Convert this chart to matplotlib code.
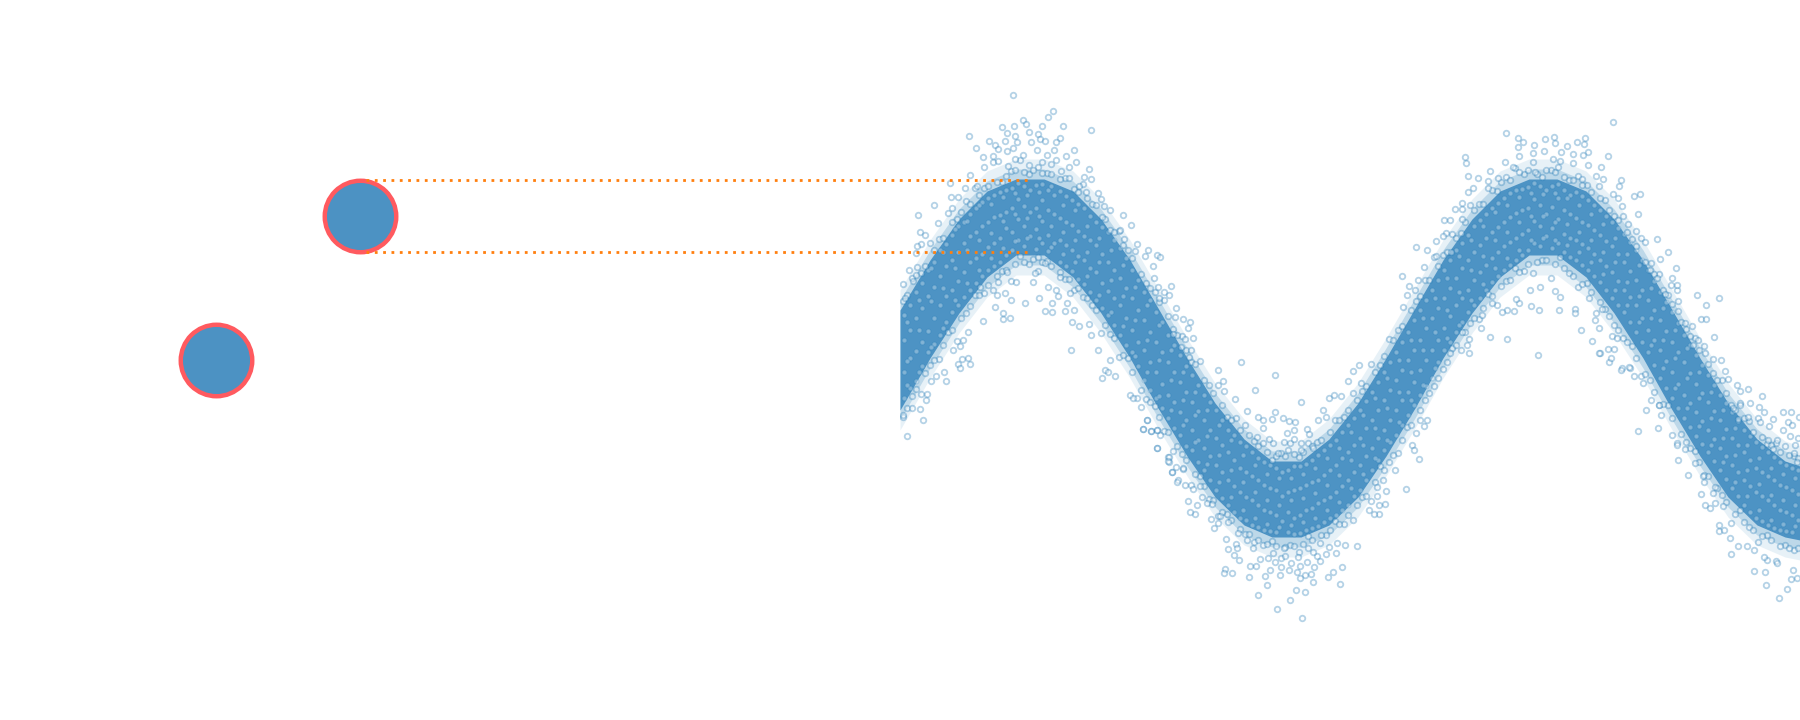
import matplotlib
matplotlib.use("Agg")
import matplotlib.pyplot as plt

# everything is in picture pixels, x to the right, y downwards

# circles on the left
circle_x = [216, 360]
circle_y = [360, 216]

# the two guide lines
guide_x = [366, 1030]
guide_y = [180, 252]

# dense band of the wave
band_x = [900, 930, 959, 987, 1016, 1044, 1073, 1101, 1130, 1158, 1187, 1215, 1244, 1272, 1301, 1329, 1358, 1386,
          1415, 1443, 1472, 1500, 1529, 1557, 1586, 1614, 1643, 1671, 1700, 1728, 1757, 1785, 1800]
band_top = [310, 260, 219, 191, 179, 179, 191, 219, 260, 308, 358, 403, 439, 461, 461, 439, 403, 358,
            308, 260, 219, 191, 179, 179, 191, 219, 260, 308, 358, 403, 439, 461, 466]
band_bot = [410, 358, 313, 277, 255, 255, 277, 313, 358, 408, 456, 497, 525, 537, 537, 525, 497, 456,
            408, 358, 313, 277, 255, 255, 277, 313, 358, 408, 456, 497, 525, 537, 540]
halo_top = [300, 250, 209, 181, 169, 169, 181, 209, 250, 298, 348, 393, 429, 451, 451, 429, 393, 348,
            298, 250, 209, 181, 169, 169, 181, 209, 250, 298, 348, 393, 429, 451, 456]
halo_bot = [420, 368, 323, 287, 265, 265, 287, 323, 368, 418, 466, 507, 535, 547, 547, 535, 507, 466,
            418, 368, 323, 287, 265, 265, 287, 323, 368, 418, 466, 507, 535, 547, 550]
halo2_top = [290, 240, 199, 171, 159, 159, 171, 199, 240, 288, 338, 383, 419, 441, 441, 419, 383, 338,
             288, 240, 199, 171, 159, 159, 171, 199, 240, 288, 338, 383, 419, 441, 446]
halo2_bot = [430, 378, 333, 297, 275, 275, 297, 333, 378, 428, 476, 517, 545, 557, 557, 545, 517, 476,
             428, 378, 333, 297, 275, 275, 297, 333, 378, 428, 476, 517, 545, 557, 560]

# points inside the band, by column
core_cols = [
    (904, [315, 340, 372, 398]), (916, [292, 318, 351, 381]), (928, [270, 296, 331, 352]), (940, [250, 276, 305, 335]),
    (952, [235, 260, 290, 312]), (964, [222, 243, 272, 297]), (976, [208, 232, 258, 283]), (988, [198, 222, 247, 270]),
    (1000, [192, 215, 238, 262]), (1012, [188, 208, 232, 250]), (1024, [186, 206, 226, 246]), (1036, [185, 208, 229, 249]),
    (1048, [190, 210, 235, 251]), (1060, [191, 218, 240, 262]), (1072, [200, 225, 250, 271]), (1084, [208, 236, 260, 284]),
    (1096, [222, 245, 272, 300]), (1108, [232, 262, 291, 315]), (1120, [248, 278, 305, 335]), (1132, [270, 298, 330, 352]),
    (1144, [292, 320, 350, 380]), (1156, [312, 342, 372, 398]), (1168, [335, 362, 395, 418]), (1180, [355, 382, 412, 435]),
    (1192, [375, 402, 430, 450]), (1204, [395, 420, 448, 470]), (1216, [410, 438, 465, 490]), (1228, [430, 452, 480, 505]),
    (1240, [442, 468, 492, 518]), (1252, [452, 476, 500, 525]), (1264, [462, 485, 510, 530]), (1276, [468, 490, 515, 532]),
    (1288, [470, 492, 512, 532]), (1300, [466, 488, 515, 533]), (1312, [460, 482, 508, 528]), (1324, [450, 475, 500, 522]),
    (1336, [440, 465, 492, 515]), (1348, [425, 452, 480, 505]), (1360, [410, 438, 465, 490]), (1372, [392, 420, 448, 470]),
    (1384, [372, 400, 430, 450]), (1396, [352, 380, 410, 435]), (1408, [332, 360, 392, 415]), (1420, [310, 340, 370, 395]),
    (1432, [290, 318, 350, 378]), (1444, [270, 298, 328, 350]), (1456, [250, 278, 305, 332]), (1468, [235, 260, 290, 312]),
    (1480, [220, 245, 272, 298]), (1492, [208, 232, 258, 282]), (1504, [198, 222, 246, 270]), (1516, [190, 213, 238, 260]),
    (1528, [187, 208, 230, 250]), (1540, [186, 205, 226, 246]), (1552, [186, 207, 228, 248]), (1564, [190, 210, 234, 252]),
    (1576, [192, 218, 240, 260]), (1588, [200, 225, 248, 270]), (1600, [210, 235, 260, 282]), (1612, [222, 246, 272, 298]),
    (1624, [234, 262, 290, 312]), (1636, [250, 280, 305, 332]), (1648, [270, 300, 330, 352]), (1660, [292, 320, 350, 378]),
    (1672, [312, 342, 372, 398]), (1684, [335, 362, 395, 418]), (1696, [355, 384, 412, 436]), (1708, [375, 402, 430, 452]),
    (1720, [395, 420, 448, 470]), (1732, [412, 438, 465, 488]), (1744, [430, 452, 480, 505]), (1756, [442, 468, 492, 518]),
    (1768, [452, 476, 500, 525]), (1780, [462, 485, 510, 530]), (1792, [468, 490, 515, 532]),
]
core_cols2 = [
    (910, [305, 330, 358, 388]), (922, [283, 308, 342, 366]), (934, [262, 287, 318, 344]), (946, [244, 266, 296, 322]),
    (958, [226, 252, 281, 305]), (970, [214, 236, 262, 290]), (982, [202, 226, 254, 276]), (994, [195, 217, 243, 266]),
    (1006, [190, 212, 228, 255]), (1018, [183, 199, 219, 240]), (1030, [190, 212, 236]), (1042, [184, 200, 221, 243]),
    (1054, [195, 214, 243]), (1066, [196, 222, 245, 266]), (1078, [204, 231, 256, 279]), (1090, [216, 240, 268, 292]),
    (1102, [227, 254, 283, 308]), (1114, [240, 270, 298, 325]), (1126, [258, 288, 318, 345]), (1138, [280, 310, 342, 366]),
    (1150, [300, 332, 362, 390]), (1162, [322, 352, 384, 408]), (1174, [345, 372, 402, 428]), (1186, [366, 392, 420, 446]),
    (1198, [385, 411, 440, 462]), (1210, [402, 430, 456, 480]), (1222, [420, 445, 472, 498]), (1234, [435, 460, 486, 512]),
    (1246, [446, 472, 497, 520]), (1258, [458, 480, 505, 527]), (1270, [465, 488, 512, 531]), (1282, [472, 496, 521]),
    (1294, [466, 490, 518, 534]), (1306, [464, 485, 510, 530]), (1318, [455, 480, 503, 526]), (1330, [445, 470, 497, 518]),
    (1342, [432, 458, 486, 510]), (1354, [418, 445, 472, 496]), (1366, [401, 428, 456, 480]), (1378, [382, 410, 438, 460]),
    (1390, [362, 390, 420, 442]), (1402, [342, 370, 400, 425]), (1414, [320, 350, 382, 405]), (1426, [300, 328, 360, 386]),
    (1438, [280, 308, 340, 362]), (1450, [260, 288, 316, 342]), (1462, [243, 268, 298, 322]), (1474, [226, 252, 280, 305]),
    (1486, [214, 238, 265, 290]), (1498, [203, 227, 252, 276]), (1510, [193, 217, 242, 265]), (1522, [189, 210, 234, 255]),
    (1534, [183, 199, 221, 243]), (1546, [190, 214, 236]), (1558, [184, 198, 219, 243]), (1570, [195, 214, 238, 257]),
    (1582, [196, 222, 244, 265]), (1594, [205, 230, 254, 276]), (1606, [216, 241, 266, 290]), (1618, [228, 254, 281, 305]),
    (1630, [242, 271, 297, 322]), (1642, [260, 290, 318, 342]), (1654, [281, 310, 340, 365]), (1666, [302, 331, 361, 388]),
    (1678, [323, 352, 384, 408]), (1690, [345, 373, 403, 427]), (1702, [365, 393, 421, 444]), (1714, [385, 411, 439, 461]),
    (1726, [403, 429, 456, 479]), (1738, [421, 445, 472, 496]), (1750, [436, 460, 486, 512]), (1762, [447, 472, 496, 521]),
    (1774, [457, 480, 505, 528]), (1786, [465, 487, 512, 531]), (1798, [470, 494, 520]),
]
core_cols3 = [
    (907, [322, 361, 385]), (919, [300, 330, 372]), (931, [268, 301, 347]), (943, [252, 288, 328]), (955, [229, 268, 300]),
    (967, [221, 250, 283]), (979, [205, 240, 270]), (991, [204, 233, 258]), (1003, [197, 221, 248]), (1015, [193, 214, 241]),
    (1027, [195, 218, 238]), (1039, [192, 216, 238]), (1051, [186, 226, 247]), (1063, [205, 232, 254]), (1075, [210, 240, 262]),
    (1087, [226, 252, 276]), (1099, [238, 262, 295]), (1111, [250, 280, 312]), (1123, [265, 296, 326]), (1135, [287, 320, 356]),
    (1147, [305, 340, 372]), (1159, [325, 360, 396]), (1171, [350, 380, 410]), (1183, [372, 400, 425]), (1195, [392, 415, 442]),
    (1207, [410, 436, 464]), (1219, [425, 455, 482]), (1231, [440, 470, 497]), (1243, [455, 482, 510]), (1255, [465, 492, 518]),
    (1267, [474, 500, 524]), (1279, [478, 505, 527]), (1291, [478, 500, 525]), (1303, [474, 498, 522]), (1315, [468, 493, 518]),
    (1327, [458, 485, 510]), (1339, [448, 475, 502]), (1351, [432, 460, 488]), (1363, [415, 445, 474]), (1375, [398, 428, 458]),
    (1387, [378, 408, 440]), (1399, [360, 392, 422]), (1411, [340, 372, 400]), (1423, [318, 350, 385]), (1435, [298, 332, 368]),
    (1447, [278, 310, 338]), (1459, [256, 292, 325]), (1471, [240, 270, 300]), (1483, [226, 256, 284]), (1495, [212, 240, 268]),
    (1507, [205, 232, 258]), (1519, [197, 222, 250]), (1531, [193, 216, 240]), (1543, [194, 216, 238]), (1555, [193, 222, 240]),
    (1567, [198, 224, 245]), (1579, [205, 232, 252]), (1591, [214, 240, 262]), (1603, [224, 252, 274]), (1615, [238, 262, 290]),
    (1627, [254, 282, 305]), (1639, [265, 296, 322]), (1651, [288, 318, 345]), (1663, [308, 340, 368]), (1675, [330, 358, 388]),
    (1687, [348, 378, 408]), (1699, [372, 398, 426]), (1711, [392, 418, 445]), (1723, [410, 438, 462]), (1735, [428, 455, 482]),
    (1747, [445, 470, 496]), (1759, [458, 484, 510]), (1771, [468, 495, 520]), (1783, [474, 500, 524]), (1795, [478, 505, 526]),
]

# points on the rough edges of the band
edge_x = [903, 912, 921, 930, 939, 948, 957, 966, 975, 984, 993, 1002, 1011, 1020, 1029, 1038, 1047, 1056, 1065, 1074,
          1083, 1092, 1101, 1110, 1119, 1128, 1137, 1146, 1155, 1164, 1173, 1182, 1191, 1200, 1209, 1218, 1227, 1236, 1245, 1254,
          1263, 1272, 1281, 1290, 1299, 1308, 1317, 1326, 1335, 1344, 1353, 1362, 1371, 1380, 1389, 1398, 1407, 1416, 1425, 1434,
          1443, 1452, 1461, 1470, 1479, 1488, 1497, 1506, 1515, 1524, 1533, 1542, 1551, 1560, 1569, 1578, 1587, 1596, 1605, 1614,
          1623, 1632, 1641, 1650, 1659, 1668, 1677, 1686, 1695, 1704, 1713, 1722, 1731, 1740, 1749, 1758, 1767, 1776, 1785, 1794]
edge_up = [301, 278, 273, 243, 239, 213, 219, 201, 188, 188, 162, 182, 171, 160, 174, 167, 173, 160, 178, 189,
           184, 204, 199, 230, 231, 250, 244, 283, 292, 300, 329, 336, 362, 361, 385, 385, 417, 418, 425, 441,
           428, 460, 453, 443, 457, 443, 442, 417, 420, 417, 393, 391, 364, 365, 339, 330, 295, 301, 280, 257,
           255, 234, 233, 205, 204, 181, 191, 177, 168, 174, 153, 177, 170, 161, 180, 176, 185, 176, 200, 216,
           216, 239, 238, 270, 274, 295, 290, 329, 338, 346, 373, 380, 405, 403, 421, 418, 444, 443, 446, 456]
edge_dn = [417, 396, 394, 365, 359, 332, 341, 313, 295, 293, 290, 271, 281, 256, 264, 271, 261, 290, 279, 290,
           297, 305, 333, 334, 357, 358, 398, 399, 406, 431, 451, 454, 485, 476, 499, 516, 514, 544, 534, 542,
           545, 541, 558, 545, 552, 536, 556, 535, 521, 524, 520, 497, 501, 466, 462, 453, 427, 433, 400, 386,
           369, 348, 350, 323, 319, 294, 305, 281, 268, 271, 273, 260, 278, 257, 273, 287, 283, 313, 309, 325,
           338, 346, 376, 380, 405, 405, 443, 442, 451, 475, 493, 495, 523, 510, 527, 542, 535, 561, 545, 550]
edge2_x = [907, 916, 925, 934, 943, 952, 961, 970, 979, 988, 997, 1006, 1015, 1024, 1033, 1042, 1051, 1060, 1069, 1078,
           1087, 1096, 1105, 1114, 1123, 1132, 1141, 1150, 1159, 1168, 1177, 1186, 1195, 1204, 1213, 1222, 1231, 1240, 1249, 1258,
           1267, 1276, 1285, 1294, 1303, 1312, 1321, 1330, 1339, 1348, 1357, 1366, 1375, 1384, 1393, 1402, 1411, 1420, 1429, 1438,
           1447, 1456, 1465, 1474, 1483, 1492, 1501, 1510, 1519, 1528, 1537, 1546, 1555, 1564, 1573, 1582, 1591, 1600, 1609, 1618,
           1627, 1636, 1645, 1654, 1663, 1672, 1681, 1690, 1699, 1708, 1717, 1726, 1735, 1744, 1753, 1762, 1771, 1780, 1789, 1798]
edge2_up = [295, 275, 266, 250, 238, 222, 212, 204, 195, 186, 182, 176, 170, 172, 170, 173, 174, 179, 178, 192,
            198, 205, 219, 232, 245, 258, 274, 288, 302, 316, 335, 350, 364, 380, 393, 405, 420, 430, 435, 446,
            452, 456, 456, 454, 452, 446, 440, 432, 420, 410, 400, 386, 372, 356, 340, 326, 310, 296, 280, 266,
            252, 238, 222, 210, 204, 190, 182, 180, 172, 170, 174, 170, 172, 177, 180, 185, 192, 198, 210, 220,
            232, 246, 262, 274, 290, 304, 322, 336, 350, 364, 380, 393, 410, 418, 432, 437, 445, 452, 455, 458]
edge2_dn = [408, 389, 373, 360, 345, 330, 318, 306, 295, 285, 276, 270, 264, 262, 259, 262, 266, 272, 279, 288,
            298, 310, 325, 338, 355, 372, 390, 402, 417, 432, 446, 460, 474, 486, 500, 512, 520, 529, 534, 540,
            544, 546, 547, 546, 544, 540, 535, 530, 524, 515, 505, 496, 482, 470, 455, 440, 425, 410, 393, 378,
            362, 345, 332, 318, 308, 296, 286, 280, 272, 264, 262, 260, 264, 268, 276, 284, 292, 302, 316, 330,
            342, 358, 374, 392, 404, 418, 434, 448, 462, 476, 488, 502, 514, 522, 530, 536, 540, 546, 548, 548]

# loose points, first hump
hump1_pts = [(1013,95),(1053,111),(1048,117),(1023,120),(1026,124),(1042,126),(1063,126),(1002,127),(1014,126),(1091,130),
    (1007,133),(1029,132),(1038,134),(969,136),(1015,136),(1060,138),(989,141),(1005,141),(1017,142),(1031,142),(1040,139),
    (1045,141),(1056,142),(995,145),(976,148),(998,149),(1007,151),(1013,148),(1037,150),(1074,150),(1054,150),(983,157),
    (993,156),(1023,155),(1047,155),(1066,156),(1015,159),(998,161),(1042,162),(1076,162),(984,167),(1008,166),(1029,165),
    (1051,164),(1089,169),(1069,167),(1061,171),(970,175),(1084,177),(1091,179),(950,183),(965,188),(977,186),(1079,186),
    (1086,192),(1098,193),(951,197),(958,197),(934,205),(952,208),(1104,206),(1110,210),(918,215),(1123,215),(1102,217),
    (938,223),(1131,225),(920,232),(925,235),(1120,230),(921,244),(917,246),(1124,239),(1135,251),(1148,250),(1145,256),
    (1157,255),(1160,257),(916,253),(909,270),(1153,266),(903,284),(1154,278),(1171,286),(1158,287),(1164,292),(1169,295),
    (1159,298),(1176,308),(1183,319),(1038,257),(1045,263),(1007,272),(1035,273),(1060,277),(998,282),(1016,282),(1033,282),
    (1048,287),(980,287),(1070,293),(1005,293),(997,295),(1011,300),(1039,298),(1058,296),(1025,303),(1052,303),(1067,303),
    (995,307),(1003,313),(1045,311),(1052,312),(1065,311),(1074,310),(1010,318),(1003,319),(983,321),(968,332),(963,340),
    (960,346),(953,350),(1072,322),(1079,326),(1089,324),(1071,350),(1091,335),(1098,350),(1110,360),(1105,370),(1108,372),
    (1102,378),(1115,376),(968,358),(962,359),(958,364),(970,364),(960,368),(944,372),(936,376),(946,381),(931,381),(927,394),
    (926,400),(920,409),(912,408),(923,420),(903,415),(907,436),(1130,395),(1133,398),(1141,407),(1147,420),(1143,429),
    (1151,431),(1157,430),(1160,435),(1157,448),(1168,457),(1169,462),(1172,472),(1183,469),(1178,480),(1190,322),(1188,328),
    (1193,338),(1185,339),(1191,350),(1189,357),(1175,317),(1181,347),(1173,334),(917,267),(913,281),(905,298)]

# first trough
trough_pts = [(1241,362),(1275,375),(1255,390),(1301,402),(1275,412),(1218,370),(1223,381),(1224,391),(1235,399),(1247,411),
    (1258,417),(1263,420),(1272,419),(1283,418),(1289,421),(1295,422),(1287,433),(1294,430),(1307,429),(1309,434),(1323,410),
    (1318,420),(1329,398),(1334,395),(1341,396),(1348,381),(1353,371),(1359,365),(1361,383),(1284,442),(1294,439),(1301,443),
    (1301,450),(1313,448),(1273,443),(1269,439),(1288,450),(1278,453),(1263,443),(1257,437),(1424,426),(1420,420),(1427,420),
    (1412,445),(1414,450),(1419,459),(1395,470),(1383,480),(1377,487),(1386,491),(1406,489),(1377,496),(1385,504),(1379,505),
    (1369,510),(1379,514),(1374,514),(1357,546),(1345,545),(1337,543),(1336,553),(1326,554),(1329,547),(1320,561),(1342,567),
    (1333,572),(1328,577),(1340,584),(1313,582),(1314,567),(1311,574),(1305,575),(1300,578),(1307,562),(1300,566),(1297,572),
    (1289,570),(1280,575),(1281,567),(1275,562),(1270,570),(1265,576),(1249,577),(1267,585),(1258,595),(1296,590),(1305,592),
    (1290,600),(1277,609),(1302,618),(1225,569),(1224,573),(1232,573),(1250,566),(1256,566),(1239,560),(1234,555),(1228,549),
    (1226,539),(1237,548),(1260,559),(1268,558),(1285,556),(1291,563),(1298,557),(1313,552),(1308,548),(1320,543),(1284,548),
    (1273,553),(1253,548),(1247,540),(1238,533),(1228,522),(1220,516),(1214,528),(1218,523),(1211,519),(1195,514),(1190,512),
    (1188,501),(1197,505),(1202,497),(1207,503),(1212,504),(1193,489),(1200,486),(1177,482),(1185,485),(1183,468),(1172,472),
    (1176,467),(1169,457),(1168,461),(1157,448),(1143,429),(1151,431),(1157,430),(1147,420)]

# second hump
hump2_pts = [(1613,122),(1506,133),(1518,138),(1545,139),(1554,137),(1577,142),(1585,138),(1584,144),(1567,146),(1534,145),
    (1523,142),(1518,147),(1555,143),(1588,152),(1608,156),(1573,154),(1544,151),(1561,152),(1465,157),(1466,163),(1505,162),
    (1519,156),(1533,162),(1553,159),(1583,155),(1601,167),(1588,165),(1490,171),(1468,176),(1478,178),(1498,178),(1513,167),
    (1535,172),(1558,167),(1573,163),(1603,179),(1621,180),(1619,186),(1582,179),(1599,186),(1640,194),(1634,196),(1613,194),
    (1618,198),(1622,206),(1638,214),(1488,188),(1473,188),(1468,192),(1462,203),(1455,209),(1462,209),(1462,219),(1444,220),
    (1450,220),(1446,233),(1443,236),(1436,241),(1416,247),(1427,250),(1436,256),(1451,252),(1424,267),(1402,276),(1409,286),
    (1415,290),(1418,280),(1403,307),(1628,224),(1636,231),(1657,239),(1645,242),(1668,252),(1660,259),(1651,263),(1676,268),
    (1672,278),(1657,278),(1677,285),(1671,285),(1697,295),(1719,298),(1706,305),(1678,301),(1665,294),(1701,319),(1706,319),
    (1692,326),(1714,337),(1698,340),(1685,323),(1721,360),(1713,359),(1705,353),(1693,345),(1678,311),(1530,290),(1540,287),
    (1555,291),(1560,297),(1531,306),(1539,310),(1559,310),(1575,309),(1575,313),(1589,298),(1602,309),(1519,303),(1516,299),
    (1514,311),(1507,310),(1502,312),(1492,303),(1482,315),(1481,328),(1490,337),(1507,339),(1581,330),(1592,341),(1600,353),
    (1538,355),(1608,349),(1614,349),(1612,336),(1617,338),(1599,328),(1595,320),(1469,353),(1469,339),(1467,345),(1462,332),
    (1450,353),(1622,368),(1630,368),(1609,362),(1611,358)]

# right hand end
tail_pts = [(1599,353),(1621,370),(1629,367),(1634,376),(1643,383),(1651,400),(1646,410),(1659,405),(1661,415),(1638,431),
    (1658,428),(1672,435),(1677,445),(1685,449),(1678,460),(1695,463),(1688,475),(1703,476),(1704,482),(1701,494),(1715,487),
    (1705,505),(1710,508),(1715,503),(1723,506),(1719,525),(1719,531),(1724,530),(1730,538),(1731,554),(1738,546),(1747,546),
    (1754,550),(1754,571),(1765,572),(1766,585),(1779,598),(1787,589),(1791,579),(1797,578),(1777,563),(1767,560),(1764,557),
    (1793,570),(1725,371),(1728,379),(1737,385),(1748,389),(1740,391),(1762,396),(1750,403),(1759,407),(1764,412),(1783,412),
    (1791,412),(1799,417),(1773,419),(1788,422),(1792,425),(1783,430),(1769,426),(1790,436),(1798,438),(1777,440),(1768,440),
    (1795,445),(1773,449),(1794,453),(1797,462),(1740,405),(1733,408),(1748,417),(1738,419),(1760,422)]

RING = (0.12, 0.47, 0.71, 0.33)
WHITE_FACE = (1, 1, 1, 0.4)

fig = plt.figure(figsize=(18, 7.2), dpi=100)

# left side, full picture so the guide lines can run across
ax = fig.add_axes([0, 0, 1, 1], zorder=3)
ax.set_xlim(0, 1800)
ax.set_ylim(720, 0)
ax.axis("off")
ax.scatter(circle_x, circle_y, s=2650, c="#4c92c3", edgecolors="#ff5a5f", linewidths=3.2)
for y in guide_y:
    ax.plot(guide_x, [y, y], color="#ff7f0e", lw=2, ls=(0, (1, 2)), dash_capstyle="butt")

# right side, clips the wave at the middle of the picture
ax2 = fig.add_axes([0.5, 0, 0.5, 1], zorder=2)
ax2.set_xlim(900, 1800)
ax2.set_ylim(720, 0)
ax2.axis("off")
ax2.fill_between(band_x, halo2_top, halo2_bot, color="#7fb3d5", alpha=0.18, lw=0)
ax2.fill_between(band_x, halo_top, halo_bot, color="#7fb3d5", alpha=0.4, lw=0)
ax2.fill_between(band_x, band_top, band_bot, color="#4d93c4", lw=0)

for cols in [core_cols, core_cols2, core_cols3]:
    core_x = [c[0] for c in cols for y in c[1]]
    core_y = [y for c in cols for y in c[1]]
    ax2.scatter(core_x, core_y, s=11, facecolors=(1, 1, 1, 0.3), edgecolors=(0.12, 0.47, 0.71, 0.2), linewidths=1)

for ex, ey in [(edge_x, edge_up), (edge_x, edge_dn), (edge2_x, edge2_up), (edge2_x, edge2_dn)]:
    ax2.scatter(ex, ey, s=16, facecolors=WHITE_FACE, edgecolors=RING, linewidths=1.3)

for pts in [hump1_pts, trough_pts, hump2_pts, tail_pts]:
    xs = [p[0] for p in pts]
    ys = [p[1] for p in pts]
    ax2.scatter(xs, ys, s=16, facecolors=WHITE_FACE, edgecolors=RING, linewidths=1.3)

fig.savefig("out.png", dpi=100)
